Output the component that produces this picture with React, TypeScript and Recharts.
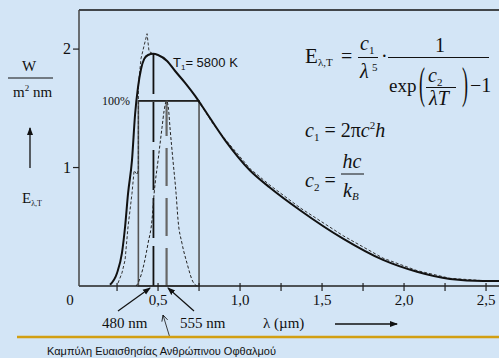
import React from 'react';
import { LineChart, Line, XAxis, YAxis, ReferenceArea, ReferenceLine } from 'recharts';

// wavelength in µm, spectral emittance (arbitrary units)
const planckLambda = [0.207, 0.25, 0.28, 0.299, 0.317, 0.341, 0.36, 0.378, 0.396, 0.415, 0.439, 0.47, 0.5, 0.555, 0.604, 0.665, 0.726, 0.768, 0.909, 1.061, 1.183, 1.366, 1.628, 1.872, 2.079, 2.28, 2.482, 2.579];
const planckE = [0.01, 0.11, 0.28, 0.5, 0.78, 1.06, 1.45, 1.68, 1.83, 1.915, 1.95, 1.96, 1.95, 1.9, 1.815, 1.715, 1.605, 1.52, 1.23, 0.975, 0.83, 0.64, 0.4, 0.22, 0.12, 0.06, 0.042, 0.042];

const sunLambda = [0.256, 0.28, 0.299, 0.317, 0.341, 0.354, 0.372, 0.38, 0.38, 0.396, 0.415, 0.433, 0.445, 0.47, 0.5, 0.555, 0.604, 0.665, 0.726, 0.83, 0.909, 1.061, 1.183, 1.366, 1.628, 1.872, 2.079, 2.28, 2.482, 2.579];
const sunE = [0.025, 0.11, 0.22, 0.5, 0.78, 0.975, 0.94, 0.98, 1.69, 1.92, 2.03, 2.13, 1.98, 1.96, 1.95, 1.9, 1.815, 1.715, 1.605, 1.38, 1.24, 0.99, 0.85, 0.66, 0.425, 0.235, 0.13, 0.065, 0.045, 0.045];

const eyeLambda = [0.366, 0.378, 0.415, 0.439, 0.463, 0.476, 0.5, 0.524, 0.537, 0.552, 0.564, 0.573, 0.591, 0.61, 0.622, 0.646, 0.677, 0.713, 0.738];
const eyeE = [0, 0.025, 0.19, 0.36, 0.555, 0.78, 1.06, 1.335, 1.48, 1.563, 1.49, 1.335, 1.06, 0.78, 0.555, 0.36, 0.19, 0.035, 0];

const xTicks = [0.25, 0.5, 0.75, 1, 1.25, 1.5, 1.75, 2, 2.25, 2.5];
const xTickLabels: Record<string, string> = { '0.5': '0,5', '1': '1,0', '1.5': '1,5', '2': '2,0', '2.5': '2,5' };
const yTicks = [1, 2];

const visibleBand = [0.38, 0.75];
const bandTop = 1.563;
const line480 = 0.472;
const line555 = 0.552;
const peakE = 1.96;

const X_MIN = 0.018;
const X_MAX = 2.579;
const Y_MAX = 2.33;

const toPoints = (xs: number[], ys: number[]) => xs.map((x, i) => ({ x, e: ys[i] }));
const planckData = toPoints(planckLambda, planckE);
const sunData = toPoints(sunLambda, sunE);
const eyeData = toPoints(eyeLambda, eyeE);

const serif = 'Liberation Serif, Times New Roman, DejaVu Serif, serif';
const sans = 'Liberation Sans, Arial, sans-serif';
const serifStyle = { fontFamily: serif };
const sansStyle = { fontFamily: sans };

const XTick = (props: any) => {
  const { x, y, payload } = props;
  const label = xTickLabels[String(payload.value)];
  return (
    <g>
      <line x1={x} x2={x} y1={y - 3} y2={y + 5} stroke="#222" strokeWidth={1.2} />
      {label && (
        <text x={x} y={y + 19} textAnchor="middle" style={serifStyle} fontSize={15} fill="#111">
          {label}
        </text>
      )}
    </g>
  );
};

const YTick = (props: any) => {
  const { x, y, payload } = props;
  return (
    <text x={x} y={y + 5} textAnchor="end" style={serifStyle} fontSize={16} fill="#111">
      {payload.value}
    </text>
  );
};

const Paren = ({ x, ch }: { x: number; ch: string }) => (
  <text transform={`translate(${x},84) scale(1,2.5)`} x={0} y={5.5} fontSize={18} style={serifStyle} fill="#111">
    {ch}
  </text>
);

const Overlay = () => (
  <svg width={499} height={358} style={{ position: 'absolute', left: 0, top: 0, pointerEvents: 'none' }}>
    <defs>
      <marker id="head" markerWidth="8" markerHeight="8" refX="7" refY="4" orient="auto" markerUnits="userSpaceOnUse">
        <path d="M0,1 L8,4 L0,7 Z" fill="#111" />
      </marker>
      <marker id="open" markerWidth="8" markerHeight="8" refX="7" refY="4" orient="auto" markerUnits="userSpaceOnUse">
        <path d="M1,1 L7,4 L1,7" fill="none" stroke="#111" strokeWidth={0.8} />
      </marker>
    </defs>

    {/* y-axis unit */}
    <g style={serifStyle} fill="#111">
      <text x={29} y={71} textAnchor="middle" fontSize={15}>W</text>
      <text x={13} y={97} fontSize={15}>
        m<tspan fontSize={9} dy={-6}>2</tspan><tspan dy={6}> nm</tspan>
      </text>
      <text x={22} y={203} fontSize={15}>
        E<tspan fontSize={8} dy={3}>λ,T</tspan>
      </text>
      <text x={70} y={305} textAnchor="middle" fontSize={15}>0</text>
      <text x={102} y={105} fontSize={12}>100%</text>
    </g>
    <line x1={8} x2={53} y1={78} y2={78} stroke="#111" strokeWidth={1} />
    <line x1={30} x2={30} y1={168} y2={128} stroke="#111" strokeWidth={1.3} markerEnd="url(#head)" />

    <text x={173} y={67} style={sansStyle} fontSize={13} fill="#111">
      T<tspan fontSize={8} dy={3}>1</tspan><tspan dy={-3}>= 5800 K</tspan>
    </text>

    {/* Planck formula */}
    <g style={serifStyle} fill="#111">
      <text x={305} y={63} fontSize={21}>E</text>
      <text x={318} y={66} fontSize={11}>λ,T</text>
      <text x={341} y={63} fontSize={20}>=</text>
      <text x={360} y={50} fontSize={20} fontStyle="italic">c</text>
      <text x={369} y={54} fontSize={11}>1</text>
      <line x1={358} x2={378} y1={57.5} y2={57.5} stroke="#111" strokeWidth={1} />
      <text x={360} y={78} fontSize={20} fontStyle="italic">λ</text>
      <text x={372} y={71} fontSize={11}>5</text>
      <text x={381} y={63} fontSize={20}>·</text>
      <line x1={388} x2={489} y1={57.5} y2={57.5} stroke="#111" strokeWidth={1} />
      <text x={435} y={52} fontSize={20}>1</text>
      <text x={389} y={92} fontSize={19}>exp</text>
      <Paren x={419} ch="(" />
      <Paren x={462} ch=")" />
      <text x={428} y={82} fontSize={20} fontStyle="italic">c</text>
      <text x={437} y={86} fontSize={11}>2</text>
      <line x1={426} x2={456} y1={87.5} y2={87.5} stroke="#111" strokeWidth={1} />
      <text x={429} y={105} fontSize={20} fontStyle="italic">λT</text>
      <text x={470} y={92} fontSize={20}>−1</text>

      <text x={305} y={137} fontSize={20} fontStyle="italic">
        c<tspan fontSize={11} dy={4} fontStyle="normal">1</tspan>
        <tspan dy={-4} fontStyle="normal"> = 2π</tspan>
        <tspan>c</tspan>
        <tspan fontSize={11} dy={-8} fontStyle="normal">2</tspan>
        <tspan dy={8}>h</tspan>
      </text>

      <text x={305} y={187} fontSize={20} fontStyle="italic">
        c<tspan fontSize={11} dy={4} fontStyle="normal">2</tspan>
        <tspan dy={-4} fontStyle="normal"> =</tspan>
      </text>
      <text x={352} y={168} fontSize={20} fontStyle="italic" textAnchor="middle">hc</text>
      <line x1={341} x2={364} y1={174} y2={174} stroke="#111" strokeWidth={1} />
      <text x={343} y={197} fontSize={20} fontStyle="italic">
        k<tspan fontSize={11} dy={3}>B</tspan>
      </text>
    </g>

    {/* bottom annotations */}
    <g style={serifStyle} fill="#111">
      <text x={102} y={328} fontSize={15}>480 nm</text>
      <text x={180} y={328} fontSize={15}>555 nm</text>
      <text x={263} y={328} fontSize={15}>λ  (µm)</text>
    </g>
    <line x1={118} y1={311} x2={150} y2={288} stroke="#111" strokeWidth={1.2} markerEnd="url(#head)" />
    <line x1={194} y1={311} x2={168} y2={288} stroke="#111" strokeWidth={1.2} markerEnd="url(#head)" />
    <line x1={170} y1={338} x2={163} y2={315} stroke="#111" strokeWidth={0.8} markerEnd="url(#open)" />
    <line x1={335} x2={397} y1={324} y2={324} stroke="#111" strokeWidth={1.3} markerEnd="url(#head)" />

    <line x1={17} x2={499} y1={337} y2={337} stroke="#d29f12" strokeWidth={2.6} />
    <text x={47} y={355} style={sansStyle} fontSize={11} fill="#111">Καμπύλη Ευαισθησίας Ανθρώπινου Οφθαλμού</text>
  </svg>
);

const App: React.FC = () => {
  return (
    <div style={{ position: 'absolute', left: 0, top: 0, width: 499, height: 358, background: '#d3e5f6', overflow: 'hidden' }}>
      <LineChart width={499} height={358} margin={{ top: 10, right: 0, bottom: 0, left: 0 }}>
        <XAxis
          type="number"
          dataKey="x"
          domain={[X_MIN, X_MAX]}
          allowDataOverflow
          ticks={xTicks}
          interval={0}
          height={72}
          tickLine={false}
          tickSize={0}
          tickMargin={0}
          tick={<XTick />}
          axisLine={{ stroke: '#222', strokeWidth: 1.5 }}
        />
        <YAxis
          type="number"
          dataKey="e"
          domain={[0, Y_MAX]}
          allowDataOverflow
          ticks={yTicks}
          width={79}
          tickSize={6}
          tickMargin={2}
          tickLine={{ stroke: '#222', strokeWidth: 1.2 }}
          tick={<YTick />}
          axisLine={{ stroke: '#444', strokeWidth: 1.5 }}
        />
        <ReferenceLine y={Y_MAX} stroke="#111" strokeWidth={1.5} />
        <ReferenceArea
          x1={visibleBand[0]}
          x2={visibleBand[1]}
          y1={0}
          y2={bandTop}
          fill="none"
          stroke="#555"
          strokeWidth={1.6}
        />
        <ReferenceLine segment={[{ x: visibleBand[0], y: bandTop }, { x: visibleBand[1], y: bandTop }]} stroke="#111" strokeWidth={1.3} />
        <ReferenceLine segment={[{ x: line480, y: 0 }, { x: line480, y: peakE }]} stroke="#111" strokeWidth={1.8} strokeDasharray="40 8" />
        <ReferenceLine segment={[{ x: line555, y: 0 }, { x: line555, y: bandTop }]} stroke="#666" strokeWidth={2.2} strokeDasharray="38 12" />
        <Line data={eyeData} dataKey="e" type="monotone" stroke="#222" strokeWidth={1} strokeDasharray="3 2" dot={false} isAnimationActive={false} />
        <Line data={sunData} dataKey="e" type="linear" stroke="#333" strokeWidth={1} strokeDasharray="3 2" dot={false} isAnimationActive={false} />
        <Line data={planckData} dataKey="e" type="monotone" stroke="#111" strokeWidth={2} dot={false} isAnimationActive={false} />
      </LineChart>
      <Overlay />
    </div>
  );
};

export default App;
